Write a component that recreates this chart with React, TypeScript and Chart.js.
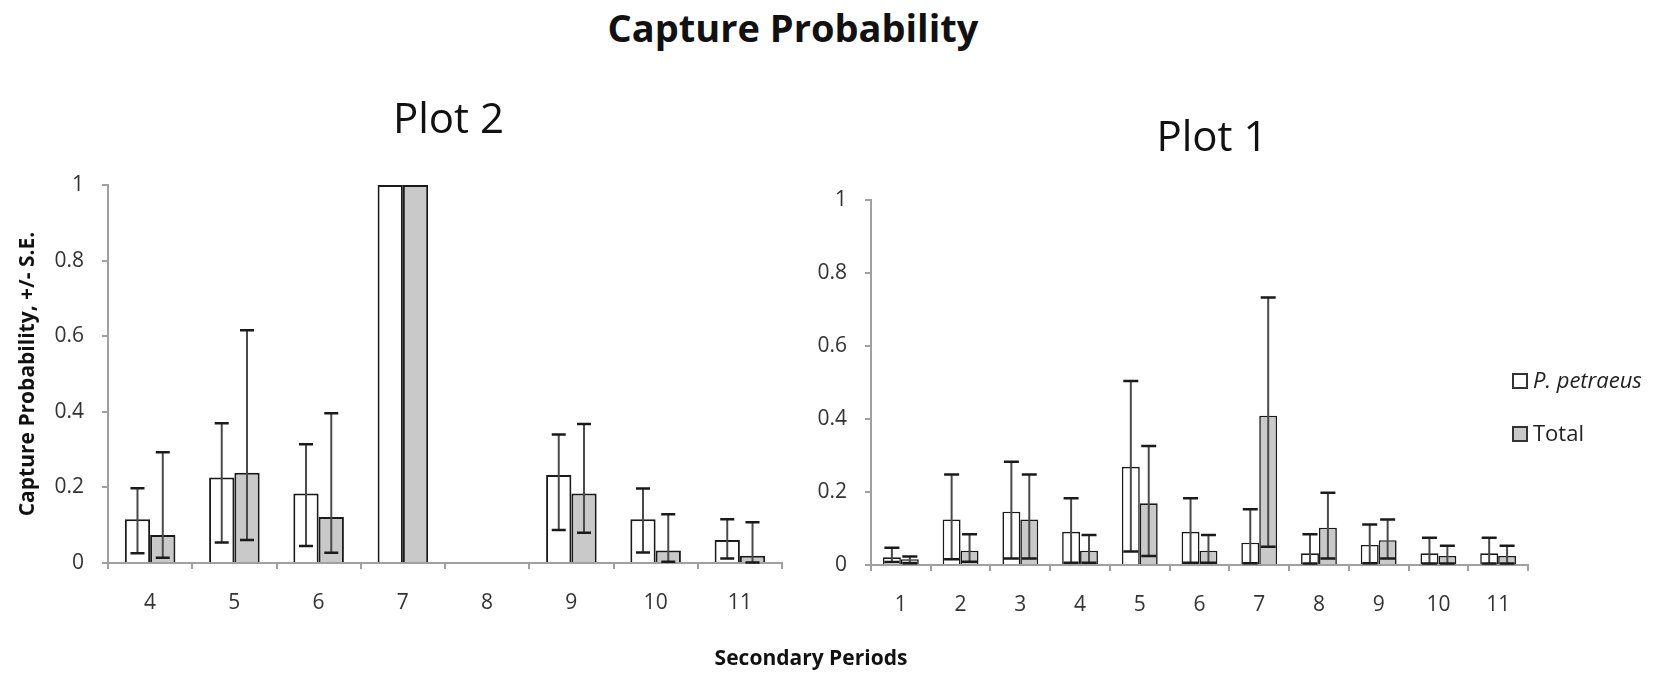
import React, { useEffect, useRef } from 'react';
import { Chart, registerables } from 'chart.js';

Chart.register(...registerables);

// ---------- Data ----------
const plot2Categories = ['4', '5', '6', '7', '8', '9', '10', '11'];
const plot2Pet = [0.116, 0.226, 0.184, 1, null, 0.233, 0.116, 0.061];
const plot2PetLow = [0.026, 0.054, 0.045, null, null, 0.087, 0.028, 0.012];
const plot2PetHigh = [0.198, 0.37, 0.314, null, null, 0.34, 0.197, 0.116];
const plot2Total = [0.074, 0.239, 0.122, 1, null, 0.184, 0.033, 0.019];
const plot2TotalLow = [0.014, 0.061, 0.027, null, null, 0.08, 0.003, 0.001];
const plot2TotalHigh = [0.293, 0.616, 0.396, null, null, 0.368, 0.129, 0.108];

const plot1Categories = ['1', '2', '3', '4', '5', '6', '7', '8', '9', '10', '11'];
const plot1Pet = [0.021, 0.125, 0.146, 0.091, 0.269, 0.091, 0.061, 0.032, 0.055, 0.032, 0.032];
const plot1PetLow = [0.008, 0.016, 0.018, 0.006, 0.037, 0.006, 0.005, 0.004, 0.005, 0.004, 0.004];
const plot1PetHigh = [0.047, 0.248, 0.283, 0.183, 0.504, 0.183, 0.153, 0.084, 0.111, 0.075, 0.075];
const plot1Total = [0.016, 0.039, 0.125, 0.039, 0.169, 0.039, 0.409, 0.102, 0.068, 0.025, 0.025];
const plot1TotalLow = [0.005, 0.009, 0.018, 0.006, 0.025, 0.006, 0.05, 0.018, 0.018, 0.004, 0.004];
const plot1TotalHigh = [0.023, 0.084, 0.248, 0.082, 0.326, 0.082, 0.733, 0.198, 0.125, 0.053, 0.053];

const seriesNames = ['P. petraeus', 'Total'];
const yTickValues = [0, 0.2, 0.4, 0.6, 0.8, 1];
const yTickLabels = ['0', '0.2', '0.4', '0.6', '0.8', '1'];

const FONT = '"Open Sans", sans-serif';
const WHITE = '#ffffff';
const GRAY = '#c9c9c9';

// ---------- Plugins ----------
const errorBarPlugin = {
  id: 'errorBars',
  afterDatasetsDraw(chart: any, _args: any, opts: any) {
    const ctx = chart.ctx;
    const y = chart.scales.y;
    chart.data.datasets.forEach((ds: any, i: number) => {
      const meta = chart.getDatasetMeta(i);
      const lows = ds.errLow;
      const highs = ds.errHigh;
      if (!lows || !highs) return;
      meta.data.forEach((el: any, j: number) => {
        const lo = lows[j];
        const hi = highs[j];
        if (lo == null || hi == null) return;
        const x = el.x;
        const yLo = y.getPixelForValue(lo);
        const yHi = y.getPixelForValue(hi);
        const hw = opts.capLength / 2;
        ctx.save();
        ctx.strokeStyle = opts.lineColor;
        ctx.lineWidth = opts.lineWidth;
        ctx.beginPath();
        ctx.moveTo(x, yLo);
        ctx.lineTo(x, yHi);
        ctx.stroke();
        ctx.strokeStyle = opts.capColor;
        ctx.lineWidth = opts.capWidth;
        ctx.beginPath();
        ctx.moveTo(x - hw, yHi);
        ctx.lineTo(x + hw, yHi);
        ctx.moveTo(x - hw, yLo);
        ctx.lineTo(x + hw, yLo);
        ctx.stroke();
        ctx.restore();
      });
    });
  },
};

const panelTitlePlugin = {
  id: 'panelTitle',
  afterDraw(chart: any, _args: any, opts: any) {
    const ctx = chart.ctx;
    ctx.save();
    ctx.font = `${opts.size}px ${FONT}`;
    ctx.fillStyle = '#111';
    ctx.textAlign = 'center';
    ctx.textBaseline = 'alphabetic';
    ctx.fillText(opts.text, opts.x, opts.y);
    ctx.restore();
  },
};

const customLegendPlugin = {
  id: 'customLegend',
  afterDraw(chart: any, _args: any, opts: any) {
    if (!opts || !opts.display) return;
    const ctx = chart.ctx;
    const area = chart.chartArea;
    chart.data.datasets.forEach((ds: any, i: number) => {
      const x = area.right + opts.offsetX;
      const y = area.top + opts.offsetY + i * opts.rowGap;
      const b = opts.boxSize;
      ctx.save();
      ctx.fillStyle = ds.backgroundColor;
      ctx.fillRect(x, y - b / 2, b, b);
      ctx.strokeStyle = '#333';
      ctx.lineWidth = 2;
      ctx.strokeRect(x, y - b / 2, b, b);
      ctx.fillStyle = '#222';
      ctx.textBaseline = 'middle';
      ctx.textAlign = 'left';
      ctx.font = (ds.legendItalic ? 'italic ' : '') + opts.fontSize + 'px ' + FONT;
      ctx.fillText(ds.label, x + b + 6, y + 1);
      ctx.restore();
    });
  },
};

function makeConfig(p: any) {
  return {
    type: 'bar',
    data: {
      labels: p.labels,
      datasets: [
        {
          label: seriesNames[0],
          data: p.pet,
          errLow: p.petLow,
          errHigh: p.petHigh,
          legendItalic: true,
          backgroundColor: WHITE,
          borderColor: '#1a1a1a',
          borderWidth: p.borderWidth,
          categoryPercentage: 0.6,
          barPercentage: 1.0,
        },
        {
          label: seriesNames[1],
          data: p.total,
          errLow: p.totalLow,
          errHigh: p.totalHigh,
          legendItalic: false,
          backgroundColor: GRAY,
          borderColor: '#1a1a1a',
          borderWidth: p.borderWidth,
          categoryPercentage: 0.6,
          barPercentage: 1.0,
        },
      ],
    },
    options: {
      responsive: false,
      animation: false,
      layout: { padding: { left: 0, right: p.padRight, top: p.padTop, bottom: 0 } },
      plugins: {
        legend: { display: false },
        tooltip: { enabled: false },
        title: { display: false },
        panelTitle: { text: p.title, size: 42, x: p.titleX, y: p.titleY },
        errorBars: {
          lineColor: '#4a4a4a',
          lineWidth: 2,
          capColor: '#1a1a1a',
          capWidth: 2.5,
          capLength: p.capLength,
        },
        customLegend: {
          display: p.legend,
          offsetX: -15,
          offsetY: 181,
          rowGap: 53,
          boxSize: 14,
          fontSize: 22,
        },
      },
      scales: {
        x: {
          grid: {
            drawOnChartArea: false,
            drawTicks: true,
            tickLength: 6,
            color: '#a0a0a0',
            lineWidth: 2,
          },
          border: { color: '#a0a0a0', width: 2 },
          ticks: {
            color: '#333',
            padding: 21,
            font: { family: FONT, size: 21 },
          },
          afterFit(scale: any) {
            scale.height = p.xHeight;
          },
        },
        y: {
          min: 0,
          max: 1,
          afterBuildTicks(scale: any) {
            scale.ticks = yTickValues.map((v) => ({ value: v }));
          },
          grid: {
            drawOnChartArea: false,
            drawTicks: true,
            tickLength: 6,
            color: '#a0a0a0',
            lineWidth: 2,
          },
          border: { color: '#a0a0a0', width: 2 },
          ticks: {
            color: '#333',
            padding: 18,
            font: { family: FONT, size: 21 },
            callback: (_v: any, idx: number) => yTickLabels[idx],
          },
          title: {
            display: p.yTitle,
            text: 'Capture Probability, +/- S.E.',
            color: '#111',
            font: { family: FONT, size: 21, weight: 'bold' },
            padding: { top: 15, bottom: 0 },
          },
          afterFit(scale: any) {
            scale.width = p.yWidth;
          },
        },
      },
    },
    plugins: [errorBarPlugin, panelTitlePlugin, customLegendPlugin],
  } as any;
}

const CANVAS_A = { left: 0, width: 800 };
const CANVAS_B = { left: 790, width: 877 };

export default function App() {
  const refA = useRef<HTMLCanvasElement | null>(null);
  const refB = useRef<HTMLCanvasElement | null>(null);

  useEffect(() => {
    const chartA = new Chart(
      refA.current as HTMLCanvasElement,
      makeConfig({
        labels: plot2Categories,
        pet: plot2Pet,
        petLow: plot2PetLow,
        petHigh: plot2PetHigh,
        total: plot2Total,
        totalLow: plot2TotalLow,
        totalHigh: plot2TotalHigh,
        title: 'Plot 2',
        titleX: 448.5 - CANVAS_A.left,
        titleY: 133,
        padTop: 185,
        padRight: CANVAS_A.width - 782,
        yWidth: 108,
        xHeight: 111,
        yTitle: true,
        legend: false,
        borderWidth: 2,
        capLength: 14,
      })
    );
    const chartB = new Chart(
      refB.current as HTMLCanvasElement,
      makeConfig({
        labels: plot1Categories,
        pet: plot1Pet,
        petLow: plot1PetLow,
        petHigh: plot1PetHigh,
        total: plot1Total,
        totalLow: plot1TotalLow,
        totalHigh: plot1TotalHigh,
        title: 'Plot 1',
        titleX: 1212 - CANVAS_B.left,
        titleY: 151,
        padTop: 200,
        padRight: CANVAS_B.width - (1528 - CANVAS_B.left),
        yWidth: 871 - CANVAS_B.left,
        xHeight: 109,
        yTitle: false,
        legend: true,
        borderWidth: 1.6,
        capLength: 15,
      })
    );
    return () => {
      chartA.destroy();
      chartB.destroy();
    };
  }, []);

  return (
    <div
      style={{
        position: 'absolute',
        left: 0,
        top: 0,
        width: 1667,
        height: 674,
        background: '#fff',
        overflow: 'hidden',
        fontFamily: FONT,
      }}
    >
      <div
        style={{
          position: 'absolute',
          left: 493,
          top: 2,
          width: 600,
          textAlign: 'center',
          fontWeight: 'bold',
          fontSize: 38,
          lineHeight: '50px',
          color: '#111',
          whiteSpace: 'nowrap',
        }}
      >
        Capture Probability
      </div>
      <canvas
        ref={refA}
        width={CANVAS_A.width}
        height={674}
        style={{ position: 'absolute', left: CANVAS_A.left, top: 0, width: CANVAS_A.width, height: 674 }}
      />
      <canvas
        ref={refB}
        width={CANVAS_B.width}
        height={674}
        style={{ position: 'absolute', left: CANVAS_B.left, top: 0, width: CANVAS_B.width, height: 674 }}
      />
      <div
        style={{
          position: 'absolute',
          left: 661,
          top: 642,
          width: 300,
          textAlign: 'center',
          fontWeight: 'bold',
          fontSize: 21,
          lineHeight: '30px',
          color: '#111',
          whiteSpace: 'nowrap',
        }}
      >
        Secondary Periods
      </div>
    </div>
  );
}
